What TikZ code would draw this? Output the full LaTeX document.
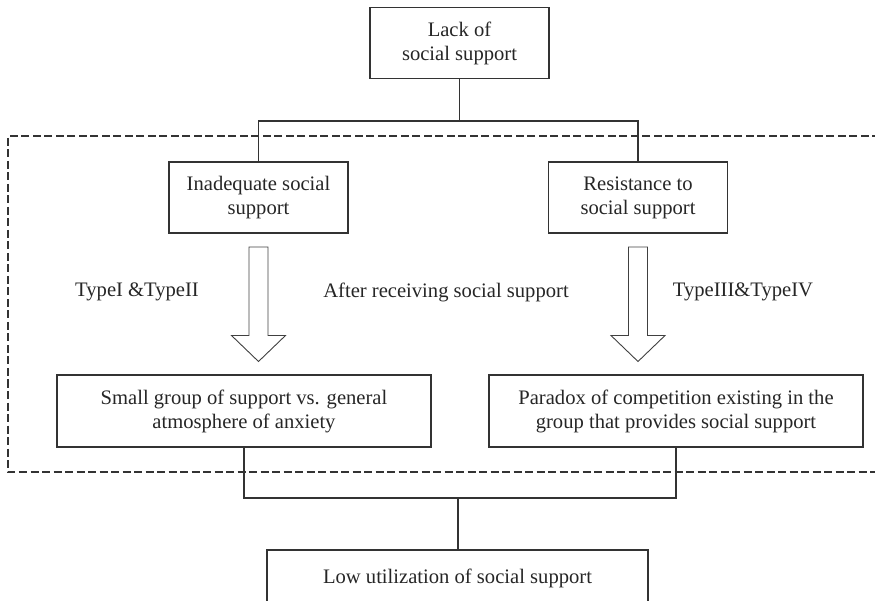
\documentclass[tikz,border=0pt]{standalone}
\usepackage{fontspec}
\setmainfont{Liberation Serif}
\begin{document}
\begin{tikzpicture}[x=1pt,y=-1pt,
  every node/.style={font=\fontsize{20.6}{24}\selectfont, text=black!85},
  boxnode/.style={draw=black!80, line width=1.4pt, align=center, inner sep=0pt},
  conn/.style={draw=black!80, line width=1.4pt},
  hollow/.style={draw=black!75, line width=0.9pt, line join=miter},
  label/.style={inner sep=0pt}]
\useasboundingbox (0,0) rectangle (875,601);
\clip (0,0) rectangle (875,601);
% dashed frame (open at right edge)
\draw[black!80, line width=1.3pt, dash pattern=on 8pt off 3.5pt]
  (880,136) -- (8,136) -- (8,472) -- (880,472);
% boxes
\node[boxnode, minimum width=179, minimum height=71] (top) at (459.5,43) {Lack of\\social support};
\node[boxnode, minimum width=179, minimum height=71] (inad) at (258.5,197.5) {Inadequate social\\support};
\node[boxnode, minimum width=179, minimum height=71] (resist) at (638,197.5) {Resistance to\\social support};
\node[boxnode, minimum width=374, minimum height=72] (small) at (244,411) {Small group of support vs. general\\atmosphere of anxiety};
\node[boxnode, minimum width=374, minimum height=72] (paradox) at (676,411) {Paradox of competition existing in the\\group that provides social support};
\node[boxnode, minimum width=381, minimum height=56] (low) at (457.5,578) {Low utilization of social support};
% connectors
\coordinate (j1) at (459.5,121);
\coordinate (j2) at (458,498);
\draw[conn] (top.south) -- (j1);
\draw[conn] (inad.north) |- (j1) -| (resist.north);
\draw[conn] (small.south) |- (j2) -| (paradox.south);
\draw[conn] (j2) -- (j2 |- low.north);
% hollow arrows
\coordinate (a1) at (258.5,247);
\coordinate (a2) at (638,247);
\foreach \a in {a1,a2}{
  \draw[hollow] (\a) ++(-9.5,0) -- ++(0,88.5) -- ++(-17.5,0) -- ++(27,26) -- ++(27,-26) -- ++(-17.5,0) -- ++(0,-88.5) -- cycle;
}
% labels
\node[label] (t12) at (137,292) {TypeI \&TypeII};
\node[label] (after) at (446,292) {After receiving social support};
\node[label] (t34) at (743,292) {TypeIII\&TypeIV};
\end{tikzpicture}
\end{document}
